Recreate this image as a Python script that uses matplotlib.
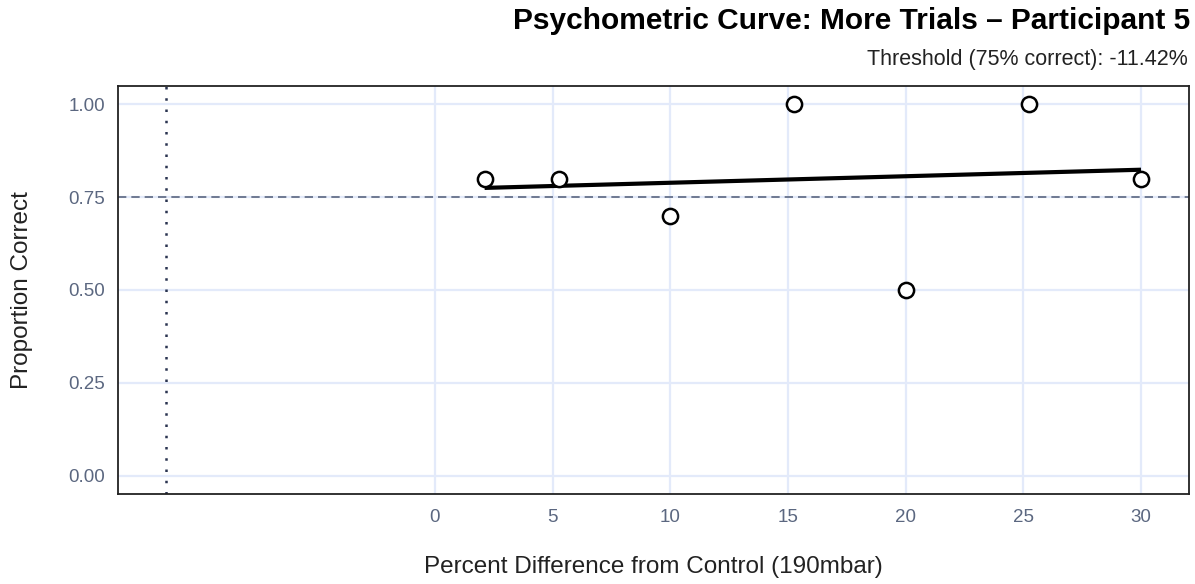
import matplotlib

matplotlib.use("Agg")

import matplotlib.pyplot as plt

plt.rcParams["font.family"] = ["Liberation Sans", "DejaVu Sans"]

# observed proportions per stimulus level (percent above 190 mbar)
pct_diff = [2.11, 5.26, 10.0, 15.26, 20.0, 25.26, 30.0]
prop_correct = [0.8, 0.8, 0.7, 1.0, 0.5, 1.0, 0.8]

# fitted curve
fit_x = [2.11, 30.0]
fit_y = [0.775, 0.824]

threshold = -11.42
criterion = 0.75

x_ticks = [0, 5, 10, 15, 20, 25, 30]
y_ticks = [0.0, 0.25, 0.5, 0.75, 1.0]

GRID = "#e3eafa"
TICK_COLOR = "#5b6780"

fig = plt.figure(figsize=(11.95, 5.84), dpi=100)
ax = fig.add_axes([0.0987, 0.154, 0.8963, 0.699])

ax.set_xlim(-13.47, 32.04)
ax.set_ylim(-0.05, 1.05)
ax.set_xticks(x_ticks)
ax.set_yticks(y_ticks)
ax.set_yticklabels([f"{v:.2f}" for v in y_ticks])
ax.grid(True, color=GRID, linewidth=1.6, zorder=0)
ax.set_axisbelow(True)
ax.tick_params(length=0, labelsize=13.5, labelcolor=TICK_COLOR)
ax.tick_params(axis="x", pad=11)
ax.tick_params(axis="y", pad=9)
for spine in ax.spines.values():
    spine.set_color("#222222")
    spine.set_linewidth(1.3)

ax.axhline(criterion, color="#5b6780", linestyle=(0, (5, 3)), linewidth=1.2, zorder=2)
ax.axvline(threshold, color="#2a3450", linestyle=(0, (1, 3.5)), linewidth=1.8, zorder=2)

ax.plot(fit_x, fit_y, color="black", linewidth=3, solid_capstyle="butt", zorder=3)
ax.scatter(pct_diff, prop_correct, s=120, facecolor="white", edgecolor="black",
           linewidth=1.8, zorder=4)

fig.text(653 / 1195, 1 - 567 / 584, "Percent Difference from Control (190mbar)",
         ha="center", va="center", fontsize=17.5, color="#222222")
fig.text(22 / 1195, 1 - 290 / 584, "Proportion Correct", rotation=90,
         ha="center", va="center", fontsize=17.5, color="#222222")

fig.text(1190 / 1195, 1 - 21 / 584, "Psychometric Curve: More Trials \u2013 Participant 5",
         ha="right", va="center", fontsize=21.5, fontweight="bold", color="black")
fig.text(1188 / 1195, 1 - 60 / 584, "Threshold (75% correct): -11.42%",
         ha="right", va="center", fontsize=15.5, color="#222222")

fig.savefig("out.png", dpi=100, facecolor="white")
